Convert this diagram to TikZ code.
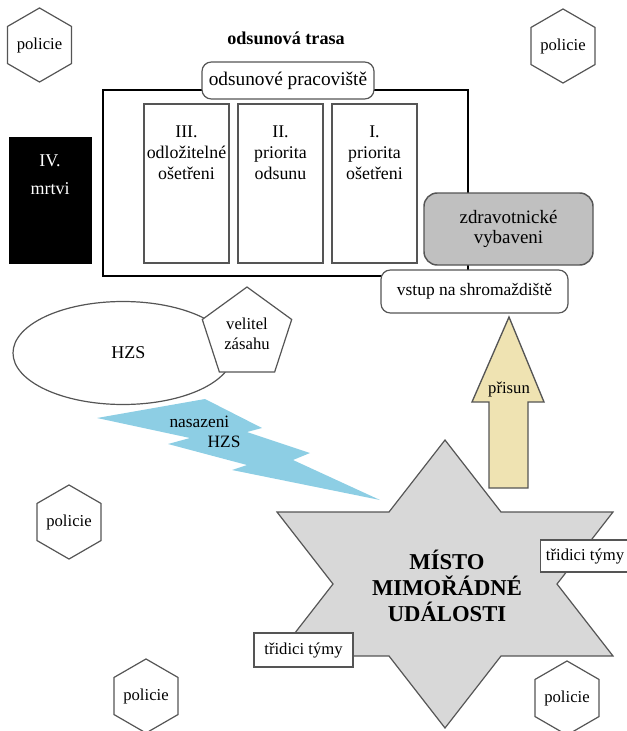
\documentclass[tikz,border=0pt]{standalone}
\usepackage{fontspec}
\setmainfont{Liberation Serif}
\usetikzlibrary{positioning, shapes.geometric}

\definecolor{boltblue}{RGB}{141,206,228}
\definecolor{supplysand}{RGB}{239,227,178}
\definecolor{sitegray}{RGB}{216,216,216}
\definecolor{kitgray}{RGB}{192,192,192}
\definecolor{edgegray}{RGB}{85,85,85}

\begin{document}
\begin{tikzpicture}[
        x=0.75pt, y=-0.75pt,
        font=\fontsize{12.5}{15}\selectfont,
        police/.style={
            regular polygon,
            regular polygon sides=6,
            shape border rotate=30,
            draw=edgegray,
            line width=0.9pt,
            fill=white,
            inner sep=0pt,
            minimum size=49pt
        },
        column/.style={
            rectangle,
            draw=edgegray,
            line width=0.9pt,
            fill=white,
            minimum width=63.75pt,
            minimum height=119.25pt
        },
        coltext/.style={
            align=center,
            inner sep=0pt,
            font=\fontsize{13.4}{15.75}\selectfont
        },
        tag/.style={
            rectangle,
            rounded corners=7pt,
            draw=edgegray,
            line width=0.9pt,
            fill=white,
            align=center
        },
        team/.style={
            rectangle,
            draw=edgegray,
            line width=0.9pt,
            fill=white,
            inner xsep=4pt
        }
    ]
    \useasboundingbox (0,0) rectangle (626,731);

    % evacuation zone
    \node[rectangle, draw=black, line width=2.2pt, minimum width=273.75pt,
        minimum height=139.5pt] (zone) at (285.5,183) {};
    \node[font=\fontsize{13.6}{15}\selectfont\bfseries] (route) at (286,38) {odsunová trasa};
    \node[tag, minimum width=129pt, minimum height=27.75pt,
        font=\fontsize{14.5}{16}\selectfont] (post) at (288,80.5) {odsunové pracoviště};

    \node[column] (c3) at (186.5,183.5) {};
    \node[column] (c2) at (280.5,183.5) {};
    \node[column] (c1) at (374.5,183.5) {};
    \node[coltext, below=16.5pt of c3.north] (t3) {III.\\odložitelné\\ošetřeni};
    \node[coltext, below=16.5pt of c2.north] (t2) {II.\\priorita\\odsunu};
    \node[coltext, below=16.5pt of c1.north] (t1) {I.\\priorita\\ošetřeni};

    \node[rectangle, draw=black, fill=black, minimum width=61.5pt,
        minimum height=94.5pt] (dead) at (50,200) {};
    \node[coltext, text=white, font=\fontsize{13.5}{21}\selectfont,
        below=13pt of dead.north] (t4) {IV.\\mrtvi};

    \node[tag, rounded corners=10pt, fill=kitgray, line width=1.1pt,
        minimum width=126.75pt, minimum height=54pt,
        font=\fontsize{14.2}{14.5}\selectfont] (kit) at (508.5,229) {zdravotnické\\vybaveni};
    \node[tag, minimum width=140.25pt, minimum height=32.25pt,
        font=\fontsize{13.1}{15}\selectfont] (entry) at (474.5,291.5) {vstup na shromaždiště};

    % fire brigade
    \node[ellipse, draw=edgegray, line width=0.9pt, fill=white,
        minimum width=165pt, minimum height=77.25pt,
        font=\fontsize{13.5}{15}\selectfont] (hzs) at (123,353) {\hspace*{8pt}HZS};
    \node[regular polygon, regular polygon sides=5, draw=edgegray, line width=0.9pt,
        fill=white, inner sep=0pt, minimum size=70.5pt, align=center] (chief) at (247,334) {velitel\\zásahu};

    \fill[boltblue] (97,418) -- (205,399) -- (262,428) -- (247,432) -- (310,453)
        -- (293,460) -- (380,500) -- (232,470) -- (247,465) -- (168,444)
        -- (190,438) -- cycle;
    \node[align=left, inner sep=0pt, font=\fontsize{13}{15}\selectfont] (deploy) at (205,432) {nasazeni\\\hspace*{2.2em}HZS};

    % incident site
    \draw[edgegray, line width=0.9pt, fill=sitegray] (445,440) -- (501,512) -- (613,512)
        -- (557,584) -- (613,656) -- (501,656) -- (445,728) -- (389,656) -- (277,656)
        -- (333,584) -- (277,512) -- (389,512) -- cycle;
    \node[align=center, font=\fontsize{17}{19.5}\selectfont\bfseries] (site) at (447,586) {MÍSTO\\MIMOŘÁDNÉ\\UDÁLOSTI};
    \node[team, minimum height=24pt, anchor=west] (teamR) at (540,556) {třidici týmy};
    \node[team, minimum width=74.25pt, minimum height=25.5pt] (teamL) at (303.5,650) {třidici týmy};

    \draw[edgegray, line width=1pt, fill=supplysand] (509,317) -- (544,402) -- (528,402)
        -- (528,488) -- (489,488) -- (489,402) -- (472,402) -- cycle;
    \node (supply) at (509,389) {přisun};

    \node[police] (p1) at (39.5,45) {policie};
    \node[police] (p2) at (563,46) {policie};
    \node[police] (p3) at (69,522) {policie};
    \node[police] (p4) at (146,696) {policie};
    \node[police] (p5) at (567,698) {policie};
\end{tikzpicture}
\end{document}
